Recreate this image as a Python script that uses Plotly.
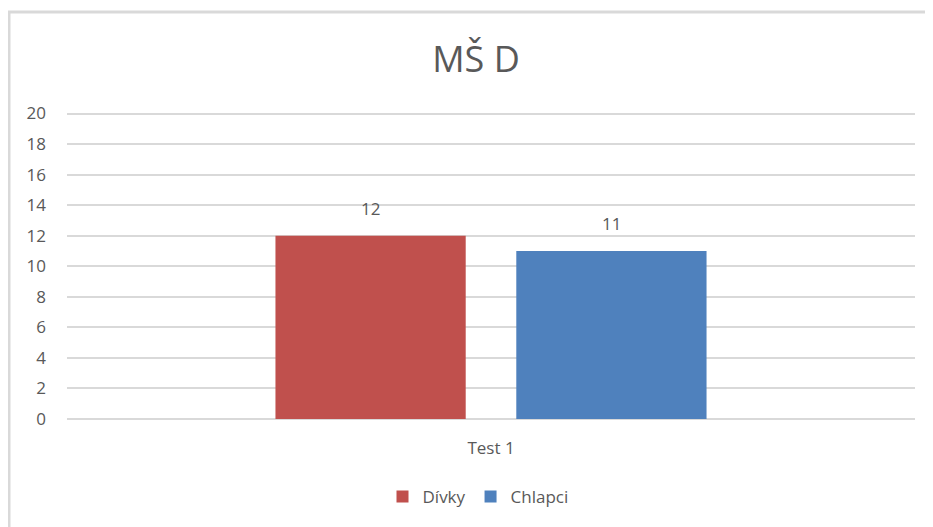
import plotly.graph_objects as go

categories = ["Test 1"]
series_names = ["Dívky", "Chlapci"]
divky = [12]
chlapci = [11]
colors = ["#C0504D", "#4F81BD"]
y_ticks = [0, 2, 4, 6, 8, 10, 12, 14, 16, 18, 20]

# page body has an 8px margin; figure coordinates = screen coordinates - 8
OFF = 8
W, H = 933 - OFF, 527 - OFF
YMAX = 20.1
L, R, T, B = 67 - OFF, 18, 112 - OFF, 108
pw, ph = W - L - R, H - T - B

def px_x(p):
    return (p - OFF - L) / pw

def px_y(p):
    return (H - B - (p - OFF)) / ph

fnt = "Open Sans, sans-serif"
grey = "#595959"

bargap, bargroupgap = 0.432, 0.21
slot_px = pw * (1 - bargap) / 2

fig = go.Figure()
annotations = []
for i, (name, vals, col) in enumerate(zip(series_names, [divky, chlapci], colors)):
    fig.add_trace(go.Bar(
        x=categories, y=vals, name=name, marker=dict(color=col, line=dict(width=0)),
    ))
    shift = (i - 0.5) * slot_px
    for c, v in zip(categories, vals):
        annotations.append(dict(x=c, y=v, xref="x", yref="y", text=str(v),
                                showarrow=False, xshift=shift, yshift=14,
                                yanchor="bottom",
                                font=dict(family=fnt, size=17, color=grey)))

fig.update_layout(
    width=W, height=H,
    margin=dict(l=L, r=R, t=T, b=B),
    paper_bgcolor="white", plot_bgcolor="white",
    barmode="group", bargap=bargap, bargroupgap=bargroupgap,
    title=dict(text="MŠ D", x=px_x(476), xref="paper", xanchor="center",
               y=1 - (59.5 - OFF) / H, yref="container", yanchor="middle",
               font=dict(family=fnt, size=36, color=grey)),
    xaxis=dict(showgrid=False, showline=False, ticks="", ticklabelstandoff=17,
               tickfont=dict(family=fnt, size=17, color=grey)),
    yaxis=dict(range=[0, YMAX], tickvals=y_ticks, showgrid=True, gridcolor="#D9D9D9",
               gridwidth=1.5, zeroline=True, zerolinecolor="#D9D9D9", zerolinewidth=1.5,
               showline=False, ticks="", ticklabelstandoff=20,
               tickfont=dict(family=fnt, size=17, color=grey)),
    legend=dict(orientation="h", x=px_x(478), xanchor="center", y=px_y(497),
                yanchor="middle", font=dict(family=fnt, size=17, color=grey),
                itemwidth=30, traceorder="normal"),
    showlegend=True,
    annotations=annotations,
    shapes=[dict(type="rect", xref="paper", yref="paper",
                 x0=px_x(9), x1=px_x(945), y0=px_y(545), y1=px_y(12),
                 line=dict(color="#D9D9D9", width=3), layer="below")],
)

fig.write_html("out.html")
